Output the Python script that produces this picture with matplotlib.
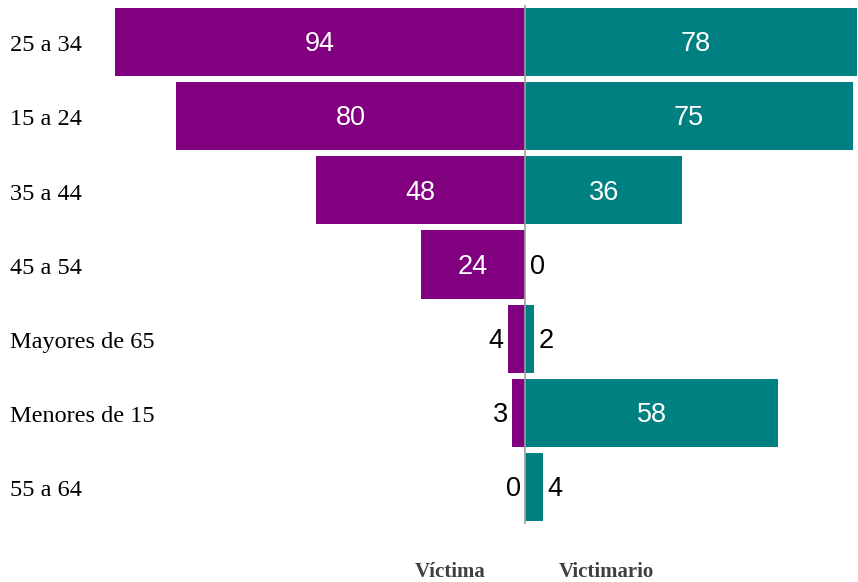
import matplotlib
matplotlib.use("Agg")
import matplotlib.pyplot as plt
from matplotlib.transforms import blended_transform_factory

categories = ["25 a 34", "15 a 24", "35 a 44", "45 a 54", "Mayores de 65", "Menores de 15", "55 a 64"]
victima = [94, 80, 48, 24, 4, 3, 0]
victimario = [78, 75, 36, 0, 2, 58, 4]
series_names = ["Víctima", "Victimario"]

purple = "#800080"
teal = "#008080"

fig = plt.figure(figsize=(8.58, 5.82), dpi=100)
ax = fig.add_axes([115/858, 1-524/582, (857-115)/858, (524-5)/582])

y = list(range(len(categories)))
ax.barh(y, [-v for v in victima], height=0.92, color=purple, edgecolor="none")
ax.barh(y, victimario, height=0.92, color=teal, edgecolor="none")
ax.set_xlim(-94, 76)
ax.set_ylim(len(categories)-0.5, -0.5)
ax.axvline(0, color="#a0a0a0", lw=1.2, zorder=3)
for s in ax.spines.values():
    s.set_visible(False)
ax.set_xticks([]); ax.set_yticks([])

vfont = dict(family="Liberation Sans", fontsize=19.5)
thr = 15
dy = 0.03
for i, (a, b) in enumerate(zip(victima, victimario)):
    if a >= thr:
        ax.text(-a/2, i+dy, str(a), color="white", ha="center", va="center", **vfont)
    else:
        ax.text(-a-1.0, i+dy, str(a), color="black", ha="right", va="center", **vfont)
    if b >= thr:
        ax.text(b/2, i+dy, str(b), color="white", ha="center", va="center", **vfont)
    else:
        ax.text(b+1.0, i+dy, str(b), color="black", ha="left", va="center", **vfont)

tr = blended_transform_factory(fig.transFigure, ax.transData)
for i, c in enumerate(categories):
    ax.text(10/858, i+0.05, c, transform=tr, ha="left", va="center",
            family="Liberation Serif", fontsize=17.5, color="black")

fig.text(450/858, 1-572/582, series_names[0], ha="center", va="center",
         family="Liberation Serif", fontweight="bold", fontsize=15, color="#404040")
fig.text(606/858, 1-572/582, series_names[1], ha="center", va="center",
         family="Liberation Serif", fontweight="bold", fontsize=15, color="#404040")

fig.savefig("out.png", dpi=100)
